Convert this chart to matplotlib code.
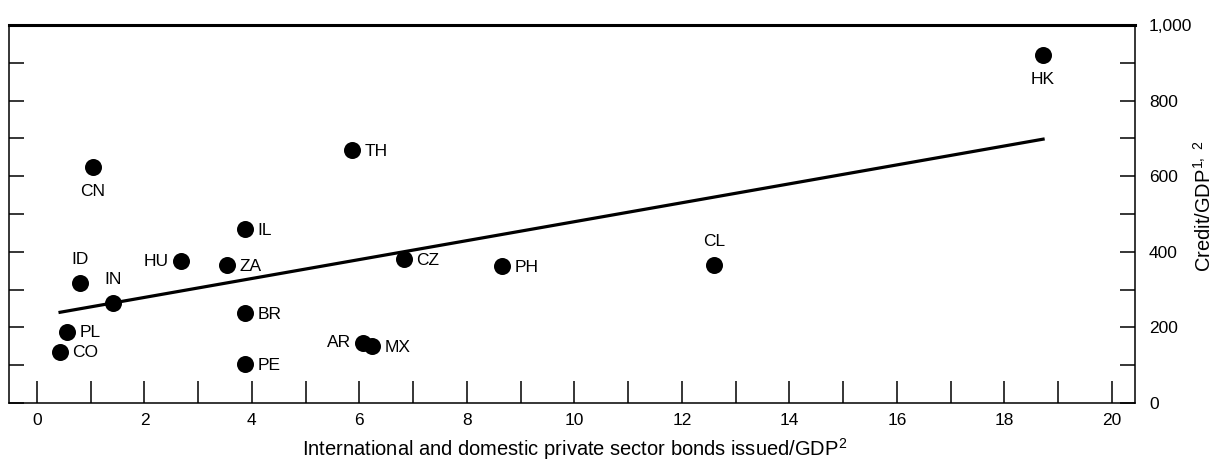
import numpy as np
import matplotlib
matplotlib.use("Agg")
import matplotlib.pyplot as plt
from matplotlib.ticker import MultipleLocator, FuncFormatter

plt.rcParams["font.family"] = ["Liberation Sans", "DejaVu Sans"]
plt.rcParams["mathtext.fontset"] = "custom"
plt.rcParams["mathtext.rm"] = "Liberation Sans"

# data
countries = ["HK", "TH", "CN", "IL", "HU", "ZA", "CZ", "PH", "CL",
             "ID", "IN", "BR", "PL", "CO", "AR", "MX", "PE"]
bonds_gdp = [18.72, 5.86, 1.04, 3.87, 2.68, 3.53, 6.83, 8.65, 12.6,
             0.80, 1.41, 3.87, 0.56, 0.43, 6.07, 6.23, 3.87]
credit_gdp = [920, 669, 624, 459, 375, 364, 380, 362, 364,
              317, 264, 237, 189, 136, 160, 150, 102]
# where each label sits relative to its dot
label_side = ["below", "right", "below", "right", "left", "right", "right", "right", "above",
              "above", "above", "right", "right", "right", "left", "right", "right"]

trend_x = [0.43, 18.72]
trend_y = [240, 698]

fig = plt.figure(figsize=(12.1, 4.59), dpi=100)
ax = fig.add_axes([9 / 1210, 56 / 459, 1126 / 1210, 378 / 459])

ax.plot(trend_x, trend_y, color="black", lw=2.3, zorder=2)
ax.scatter(bonds_gdp, credit_gdp, s=150, color="black", zorder=3, linewidths=0)

offsets = {"right": ((9, -1), "left", "center"),
           "left": ((-9, 0), "right", "center"),
           "below": ((0, -12), "center", "top"),
           "above": ((0, 12), "center", "bottom")}
for name, x, y, side in zip(countries, bonds_gdp, credit_gdp, label_side):
    off, ha, va = offsets[side]
    ax.annotate(name, (x, y), xytext=off, textcoords="offset points",
                ha=ha, va=va, fontsize=12.5)

ax.set_xlim(-0.52, 20.43)
ax.set_ylim(0, 1000)

ax.xaxis.set_major_locator(MultipleLocator(2))
ax.xaxis.set_minor_locator(MultipleLocator(1))
ax.yaxis.set_major_locator(MultipleLocator(200))
ax.yaxis.set_minor_locator(MultipleLocator(100))
ax.yaxis.set_major_formatter(FuncFormatter(lambda v, p: f"{int(v):,}"))

ax.tick_params(axis="x", which="both", direction="in", length=16, width=1.1,
               labelsize=12.5, pad=7, top=False)
ax.tick_params(axis="y", which="both", direction="in", length=11, width=1.1,
               labelsize=12.5, left=True, right=True, labelleft=False,
               labelright=True, pad=10)

for s in ax.spines.values():
    s.set_linewidth(1.1)
ax.spines["top"].set_linewidth(2.2)

fig.text(575 / 1210, 1 - 456 / 459, "International and domestic private sector bonds issued/GDP$^{2}$",
         ha="center", va="baseline", fontsize=14.5)
fig.text(1204 / 1210, 1 - 206 / 459, r"Credit/GDP$^{1,\ 2}$", rotation=90,
         ha="center", va="center", fontsize=14.5)

fig.savefig("out.png", dpi=100)
